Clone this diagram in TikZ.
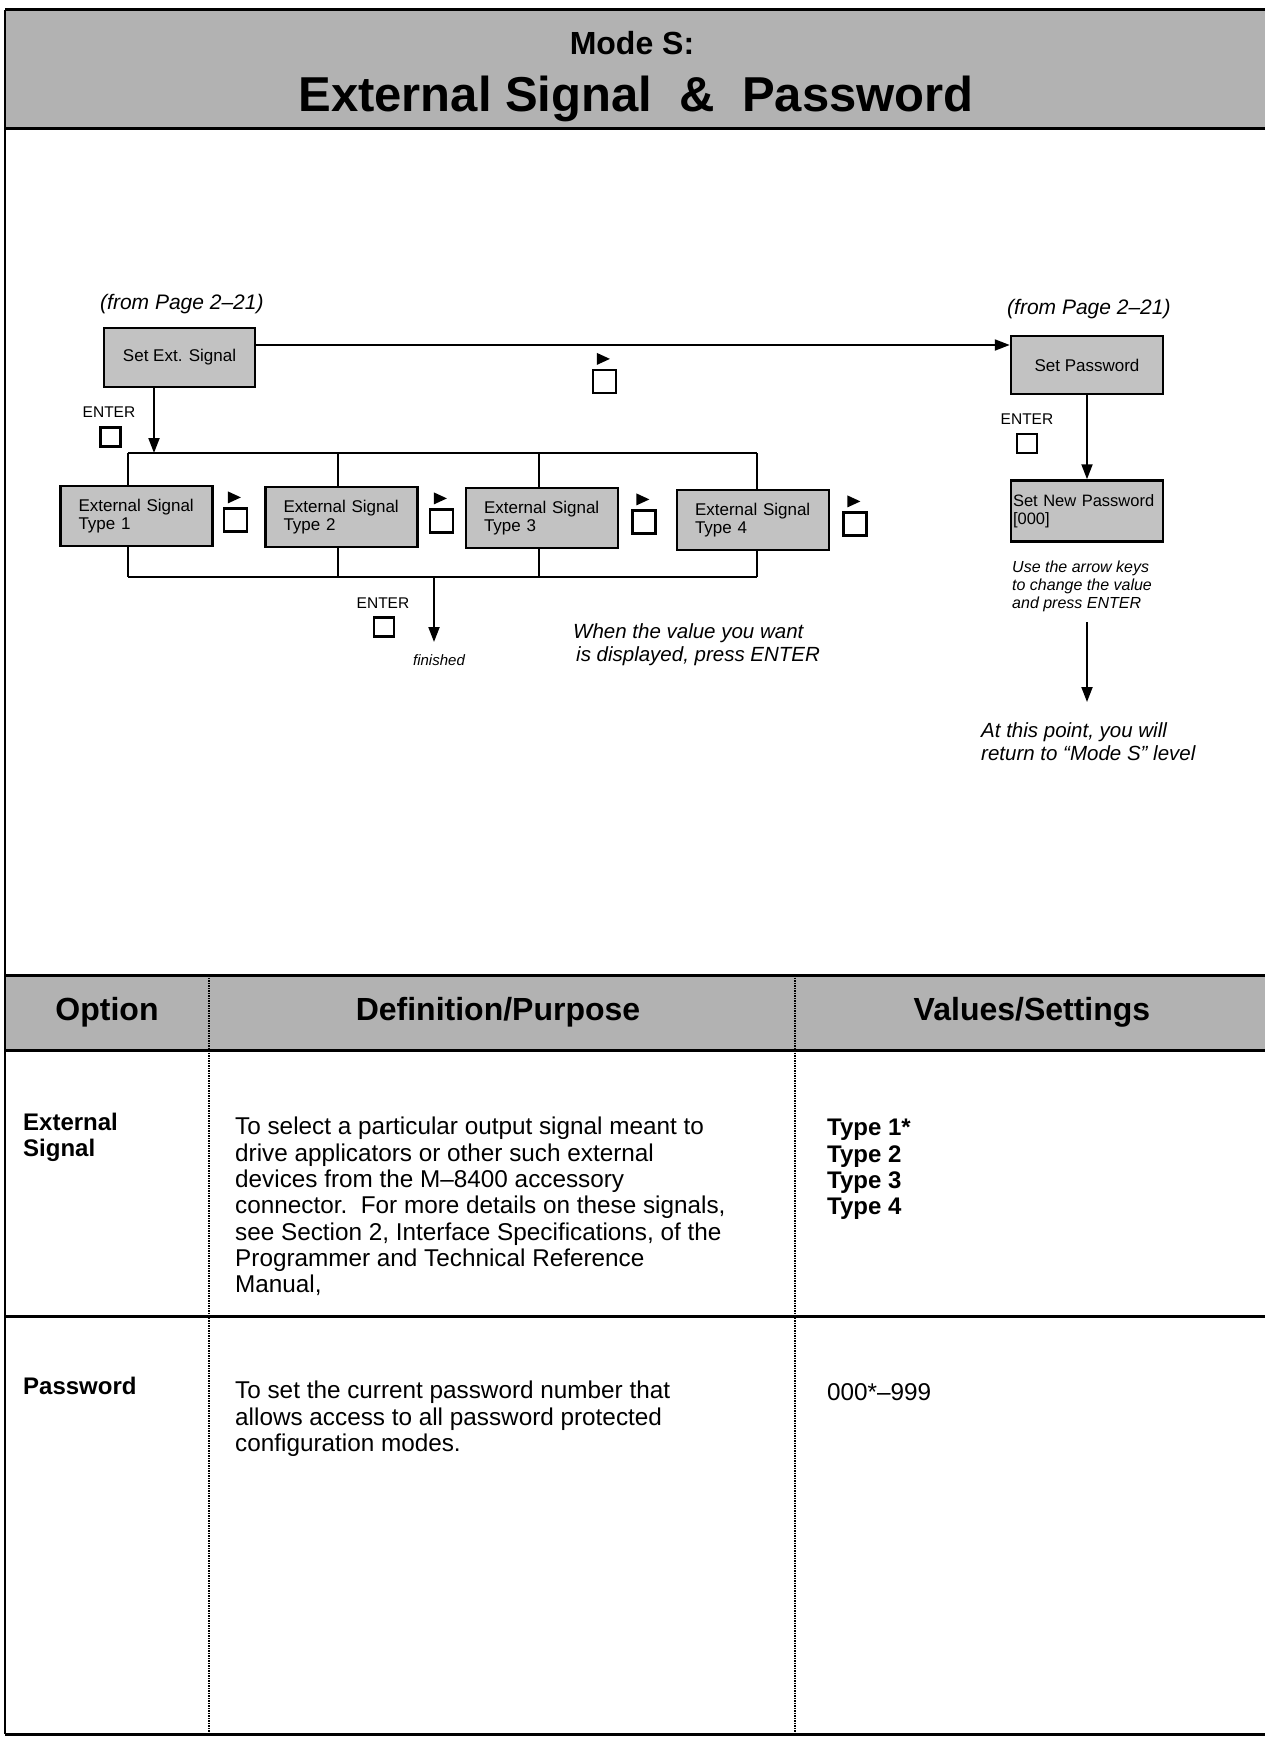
\documentclass[tikz,border=0pt]{standalone}
\usepackage{fontspec}
\setmainfont{Liberation Sans}
\usetikzlibrary{arrows.meta}
\newcommand\fsz[2]{\fontsize{#1pt}{#2pt}\selectfont}
\begin{document}
\begin{tikzpicture}[x=1pt,y=-1pt,
  lcd/.style={draw,line width=2.5pt,fill=black!24,minimum width=152pt,minimum height=60pt,inner sep=0pt,font=\fsz{17}{18}},
  keysq/.style={draw,line width=2.2pt,minimum width=23pt,minimum height=23pt,inner sep=0pt},
  entsq/.style={draw,line width=2.2pt,minimum width=20pt,minimum height=19pt,inner sep=0pt},
  flow/.style={line width=2pt},
  arr/.style={flow,-{Triangle[length=15pt,width=11pt]}},
  band/.style={fill=black!30},
  heavy/.style={line width=3pt},
  coldiv/.style={line width=1.5pt,densely dotted},
  hdr/.style={font=\bfseries\fsz{32}{36},anchor=base,inner sep=0pt},
  body/.style={font=\fsz{24.3}{26.3},align=left,anchor=north west,inner sep=0pt},
  bodyb/.style={font=\bfseries\fsz{24}{26.3},align=left,anchor=north west,inner sep=0pt},
  note/.style={font=\itshape\fsz{20.5}{23.5},align=left,anchor=north west,inner sep=0pt},
  enterlbl/.style={font=\fsz{15.5}{17},inner sep=0pt},
]
\useasboundingbox (0,0) rectangle (1265,1737);
\fill[white] (0,0) rectangle (1265,1737);

% ---- frame, title band and table ----
\fill[band] (5,10) rectangle (1265,128);
\fill[band] (5,975) rectangle (1265,1050);
\draw[heavy] (5,10) -- (1265,10);
\draw[heavy] (5,128) -- (1265,128);
\draw[line width=2pt] (5,10) -- (5,1734);
\draw[heavy] (5,975) -- (1265,975);
\draw[heavy] (5,1050) -- (1265,1050);
\draw[heavy] (5,1316) -- (1265,1316);
\draw[heavy] (5,1734) -- (1265,1734);
\draw[coldiv] (209,975) -- (209,1734);
\draw[coldiv] (795,975) -- (795,1734);

\node[font=\bfseries\fsz{32}{36},anchor=base,inner sep=0pt] (modes) at (632,55) {Mode S:};
\node[font=\bfseries\fsz{49}{55},anchor=base,inner sep=0pt] (title) at (636,111) {External Signal \ \& \ Password};

\node[hdr] (hopt) at (107,1020) {Option};
\node[hdr] (hdef) at (498,1020) {Definition/Purpose};
\node[hdr] (hval) at (1032,1020) {Values/Settings};

\node[bodyb] (o1) at (23,1113) {External\\Signal};
\node[body] (d1) at (235,1117) {To select a particular output signal meant to\\drive applicators or other such external\\devices from the M--8400 accessory\\connector.\ \ For more details on these signals,\\see Section 2, Interface Specifications, of the\\Programmer and Technical Reference\\Manual,};
\node[bodyb] (v1) at (827,1119) {Type 1*\\Type 2\\Type 3\\Type 4};

\node[bodyb] (o2) at (23,1377) {Password};
\node[body] (d2) at (235,1381) {To set the current password number that\\allows access to all password protected\\configuration modes.};
\node[body] (v2) at (827,1383) {000*--999};

% ---- flow diagram ----
\node[font=\itshape\fsz{21}{23},anchor=west,inner sep=0pt] (from1) at (100,304) {(from Page 2--21)};
\node[font=\itshape\fsz{21}{23},anchor=west,inner sep=0pt] (from2) at (1007,309) {(from Page 2--21)};

\node[lcd,minimum width=151pt,minimum height=59pt] (setext) at (179.5,357.5) {Set Ext. Signal};
\node[lcd,minimum height=58pt] (setpwd) at (1087,365) {Set Password};
\node[lcd,minimum height=61pt,align=left,text width=148pt,font=\fsz{16.5}{18}] (setnew) at (1087,511) {\mbox{Set New Password}\\{[000]}};

\node[lcd,align=left,text width=116pt] (t1) at (136.5,516) {External Signal\\Type 1};
\node[lcd,align=left,text width=116pt] (t2) at (341.5,517) {External Signal\\Type 2};
\node[lcd,align=left,text width=116pt] (t3) at (542,518) {External Signal\\Type 3};
\node[lcd,align=left,text width=116pt] (t4) at (753,520) {External Signal\\Type 4};

% arrow keys
\node[keysq] (km) at (604.5,381.5) {};
\node[keysq] (k1) at (235.5,520) {};
\node[keysq] (k2) at (441.5,521) {};
\node[keysq] (k3) at (644,522) {};
\node[keysq] (k4) at (855,524) {};
\foreach \k in {km,k1,k2,k3,k4}
  \fill ([shift={(5,-4)}]\k.north west) -- ++(0,-12) -- ++(13,6) -- cycle;

% enter keys
\node[enterlbl] (ent1) at (109,412) {ENTER};
\node[entsq] (e1) at (110.5,437) {};
\node[enterlbl] (ent2) at (383,603) {ENTER};
\node[entsq] (e2) at (384,627) {};
\node[enterlbl] (ent3) at (1027,419) {ENTER};
\node[entsq] (e3) at (1027,443.5) {};

% connectors
\coordinate (hl) at (0,345);
\draw[arr] (setext.east |- hl) -- (setpwd.west |- hl);
\coordinate (bj) at (154,453);
\draw[arr] (setext.south -| bj) -- (bj);

\coordinate (bt1) at (128,453);
\coordinate (bt2) at (338,453);
\coordinate (bt3) at (539,453);
\coordinate (bt4) at (757,453);
\coordinate (bb1) at (128,577);
\coordinate (bb2) at (338,577);
\coordinate (bb3) at (539,577);
\coordinate (bb4) at (757,577);
\draw[flow] (bt1) -- (bt4);
\draw[flow] (bb1) -- (bb4);
\draw[flow] (bt1) -- (bt1 |- t1.north);
\draw[flow] (bt2) -- (bt2 |- t2.north);
\draw[flow] (bt3) -- (bt3 |- t3.north);
\draw[flow] (bt4) -- (bt4 |- t4.north);
\draw[flow] (t1.south -| bb1) -- (bb1);
\draw[flow] (t2.south -| bb2) -- (bb2);
\draw[flow] (t3.south -| bb3) -- (bb3);
\draw[flow] (t4.south -| bb4) -- (bb4);

\coordinate (fs) at (434,577);
\coordinate (fe) at (434,642);
\draw[arr] (fs) -- (fe);
\node[font=\itshape\fsz{15}{17},inner sep=0pt] (fin) at (439,660) {finished};

\node[note] (when) at (573,623) {When the value you want\\\hspace{3pt}is displayed, press ENTER};

\draw[arr] (setpwd.south) -- (setnew.north);
\node[font=\itshape\fsz{16}{18},align=left,anchor=north west,inner sep=0pt] (usenote) at (1012,561) {Use the arrow keys\\to change the value\\and press ENTER};
\coordinate (pa) at (1087,622);
\coordinate (pb) at (1087,702);
\draw[arr] (pa) -- (pb);
\node[note] (atpoint) at (981,722) {At this point, you will\\return to “Mode S” level};
\end{tikzpicture}
\end{document}
